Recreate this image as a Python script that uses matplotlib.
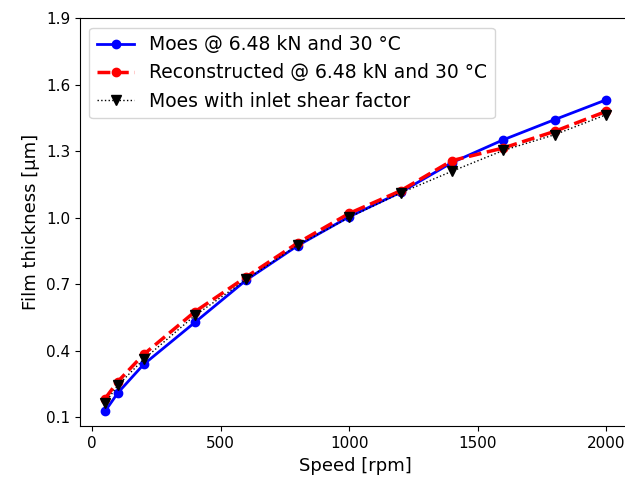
import matplotlib
matplotlib.use("Agg")
import matplotlib.pyplot as plt
import numpy as np

# speeds [rpm]
speed = [50, 100, 200, 400, 600, 800, 1000, 1200, 1400, 1600, 1800, 2000]
# film thickness [um]
moes = [0.128, 0.211, 0.339, 0.529, 0.720, 0.875, 1.005, 1.115, 1.249, 1.352, 1.443, 1.532]
recon = [0.185, 0.262, 0.384, 0.577, 0.734, 0.887, 1.020, 1.122, 1.258, 1.315, 1.390, 1.480]
inlet = [0.165, 0.245, 0.362, 0.560, 0.722, 0.877, 1.002, 1.112, 1.210, 1.304, 1.375, 1.465]

fig = plt.figure(figsize=(6.25, 4.79), dpi=100)
ax = fig.add_axes([0.128, 0.11, 0.882, 0.852])

ax.plot(speed, moes, 'o-', color='blue', lw=2, ms=6, label='Moes @ 6.48 kN and 30 °C')
ax.plot(speed, recon, 'o--', color='red', lw=2.5, ms=6, label='Reconstructed @ 6.48 kN and 30 °C')
ax.plot(speed, inlet, 'v:', color='black', lw=1, ms=7, label='Moes with inlet shear factor')

ax.set_ylim(0.06, 1.9)
ax.set_yticks(np.arange(0.1, 1.91, 0.3))
ax.set_xticks([0, 500, 1000, 1500, 2000])
ax.set_xlabel('Speed [rpm]', fontsize=13)
ax.set_ylabel('Film thickness [µm]', fontsize=13)
ax.tick_params(labelsize=11)
ax.legend(loc='upper left', fontsize=13.5, handlelength=2.0)

fig.savefig('out.png', dpi=100)
